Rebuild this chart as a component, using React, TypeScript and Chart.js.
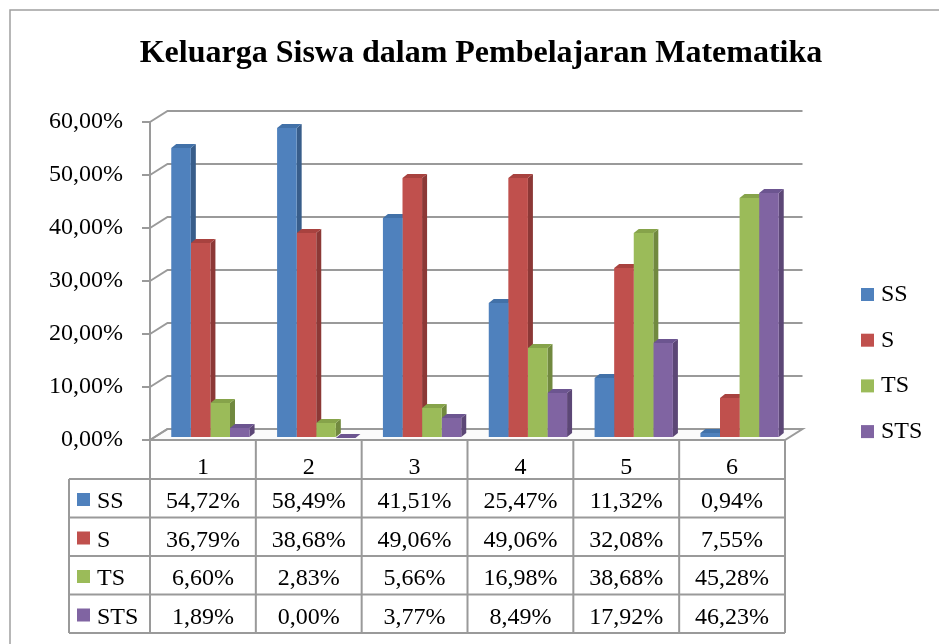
import React, { useEffect, useRef } from "react";
import { Chart, registerables } from "chart.js";

Chart.register(...registerables);

// ---------- data ----------
const categories = ["1", "2", "3", "4", "5", "6"];
const seriesNames = ["SS", "S", "TS", "STS"];
const ssValues = [54.72, 58.49, 41.51, 25.47, 11.32, 0.94];
const sValues = [36.79, 38.68, 49.06, 49.06, 32.08, 7.55];
const tsValues = [6.6, 2.83, 5.66, 16.98, 38.68, 45.28];
const stsValues = [1.89, 0.0, 3.77, 8.49, 17.92, 46.23];
const yMin = 0;
const yMax = 60;
const yStep = 10;
const chartTitle = "Keluarga Siswa dalam Pembelajaran Matematika";

// ---------- styles ----------
const frontColors = ["#4F81BD", "#C0504D", "#9BBB59", "#8064A2"];
const sideColors = ["#385D8A", "#8C3836", "#71893F", "#5C4776"];
const topColors = ["#4271A8", "#A8423F", "#86A34A", "#6C5590"];
const GRID = "#9a9a9a";
const SERIF = "Liberation Serif";
const WALL_DX = 17.5;
const WALL_DY = 11;
const BAR_DX = 7.5;
const BAR_DY = 2;
const D3X = 5;
const D3Y = 4;

const fmt = (v: number) => v.toFixed(2).replace(".", ",") + "%";
const allSeries = [ssValues, sValues, tsValues, stsValues];

const excel3d = {
  id: "excel3d",
  beforeDraw(chart: any) {
    const ctx = chart.ctx;
    ctx.save();
    ctx.fillStyle = "#ffffff";
    ctx.fillRect(0, 0, chart.width, chart.height);
    ctx.restore();
  },
  beforeDatasetsDraw(chart: any) {
    const { ctx, chartArea: a, scales } = chart;
    const ys = scales.y;
    ctx.save();
    // floor
    const y0 = ys.getPixelForValue(0);
    ctx.fillStyle = "#fbfbfb";
    ctx.beginPath();
    ctx.moveTo(a.left, y0);
    ctx.lineTo(a.left + WALL_DX, y0 - WALL_DY);
    ctx.lineTo(a.right + WALL_DX, y0 - WALL_DY);
    ctx.lineTo(a.right, y0);
    ctx.closePath();
    ctx.fill();
    ctx.strokeStyle = GRID;
    ctx.lineWidth = 2;
    ctx.stroke();
    // side wall diagonals + back wall gridlines
    for (let v = yMin; v <= yMax; v += yStep) {
      const py = ys.getPixelForValue(v);
      ctx.beginPath();
      ctx.moveTo(a.left, py);
      ctx.lineTo(a.left + WALL_DX, py - WALL_DY);
      ctx.lineTo(a.right + WALL_DX, py - WALL_DY);
      ctx.stroke();
    }
    ctx.restore();

    // bars sit at mid depth; translation restored after datasets draw
    ctx.save();
    ctx.translate(BAR_DX, -BAR_DY);
    for (let d = 0; d < chart.data.datasets.length; d++) {
      const meta = chart.getDatasetMeta(d);
      meta.data.forEach((bar: any) => {
        const p = bar.getProps(["x", "y", "base", "width"], true);
        const left = p.x - p.width / 2;
        const right = p.x + p.width / 2;
        const top = Math.min(p.y, p.base);
        const bottom = p.base;
        ctx.fillStyle = sideColors[d];
        ctx.beginPath();
        ctx.moveTo(right, top);
        ctx.lineTo(right + D3X, top - D3Y);
        ctx.lineTo(right + D3X, bottom - D3Y);
        ctx.lineTo(right, bottom);
        ctx.closePath();
        ctx.fill();
        ctx.fillStyle = topColors[d];
        ctx.beginPath();
        ctx.moveTo(left, top);
        ctx.lineTo(left + D3X, top - D3Y);
        ctx.lineTo(right + D3X, top - D3Y);
        ctx.lineTo(right, top);
        ctx.closePath();
        ctx.fill();
      });
    }
  },
  afterDatasetsDraw(chart: any) {
    chart.ctx.restore();
  },
  afterDraw(chart: any) {
    const { ctx, chartArea: a, scales } = chart;
    const xs = scales.x;
    ctx.save();

    // outer frame (top + left)
    ctx.strokeStyle = "#a0a0a0";
    ctx.lineWidth = 1.5;
    ctx.beginPath();
    ctx.moveTo(10, chart.height);
    ctx.lineTo(10, 10);
    ctx.lineTo(chart.width, 10);
    ctx.stroke();

    // title
    ctx.fillStyle = "#000";
    ctx.font = "bold 32px " + SERIF;
    ctx.textAlign = "center";
    ctx.textBaseline = "alphabetic";
    ctx.fillText(chartTitle, 481, 62);

    // legend
    ctx.font = "24px " + SERIF;
    ctx.textAlign = "left";
    seriesNames.forEach((name, i) => {
      const base = 301 + i * 45.7;
      ctx.fillStyle = frontColors[i];
      ctx.fillRect(861, base - 13, 13, 13);
      ctx.fillStyle = "#000";
      ctx.fillText(name, 881, base);
    });

    // data table
    const catW = (a.right - a.left) / categories.length;
    const headTop = a.bottom;
    const headBottom = a.bottom + 39;
    const rowH = 38.5;
    const tableLeft = 69;
    const tableBottom = headBottom + rowH * seriesNames.length;
    ctx.strokeStyle = GRID;
    ctx.lineWidth = 2;
    ctx.beginPath();
    for (let i = 0; i <= categories.length; i++) {
      const bx = a.left + i * catW;
      ctx.moveTo(bx, headTop);
      ctx.lineTo(bx, tableBottom);
    }
    ctx.moveTo(tableLeft, headBottom);
    ctx.lineTo(tableLeft, tableBottom);
    for (let r = 0; r <= seriesNames.length; r++) {
      const ry = headBottom + r * rowH;
      ctx.moveTo(tableLeft, ry);
      ctx.lineTo(a.right, ry);
    }
    ctx.stroke();

    ctx.fillStyle = "#000";
    ctx.font = "24px " + SERIF;
    ctx.textAlign = "center";
    categories.forEach((c, i) => {
      ctx.fillText(c, xs.getPixelForValue(i), headBottom - 5);
    });
    seriesNames.forEach((name, r) => {
      const rowTop = headBottom + r * rowH;
      const base = rowTop + 29;
      ctx.fillStyle = frontColors[r];
      ctx.fillRect(77, base - 15, 13, 13);
      ctx.fillStyle = "#000";
      ctx.textAlign = "left";
      ctx.fillText(name, 97, base);
      ctx.textAlign = "center";
      allSeries[r].forEach((v, i) => {
        ctx.fillText(fmt(v), xs.getPixelForValue(i), base);
      });
    });
    ctx.restore();
  },
};

export default function App() {
  const ref = useRef<HTMLCanvasElement | null>(null);
  useEffect(() => {
    if (!ref.current) return;
    const chart = new Chart(ref.current, {
      type: "bar",
      data: {
        labels: categories,
        datasets: seriesNames.map((name, i) => ({
          label: name,
          data: allSeries[i],
          backgroundColor: frontColors[i],
          borderWidth: 0,
          categoryPercentage: 0.74,
          barPercentage: 1.0,
        })),
      },
      options: {
        responsive: false,
        animation: false,
        events: [],
        layout: { padding: { left: 10, right: 154, top: 122, bottom: 204 } },
        plugins: {
          legend: { display: false },
          title: { display: false },
          tooltip: { enabled: false },
        },
        scales: {
          x: { display: false },
          y: {
            min: yMin,
            max: yMax,
            ticks: {
              stepSize: yStep,
              padding: 19,
              color: "#000",
              font: { family: SERIF, size: 24 },
              callback: (v: any) => fmt(Number(v)),
            },
            grid: {
              drawOnChartArea: false,
              drawTicks: true,
              tickLength: 8,
              color: GRID,
              lineWidth: 2,
            },
            border: { display: true, color: GRID, width: 2 },
            afterFit: (scale: any) => {
              scale.width = 140;
            },
          },
        },
      },
      plugins: [excel3d],
    });
    return () => chart.destroy();
  }, []);
  return (
    <div style={{ position: "absolute", left: 0, top: 0, width: 939, height: 644 }}>
      <canvas ref={ref} width={939} height={644} style={{ display: "block" }} />
    </div>
  );
}
